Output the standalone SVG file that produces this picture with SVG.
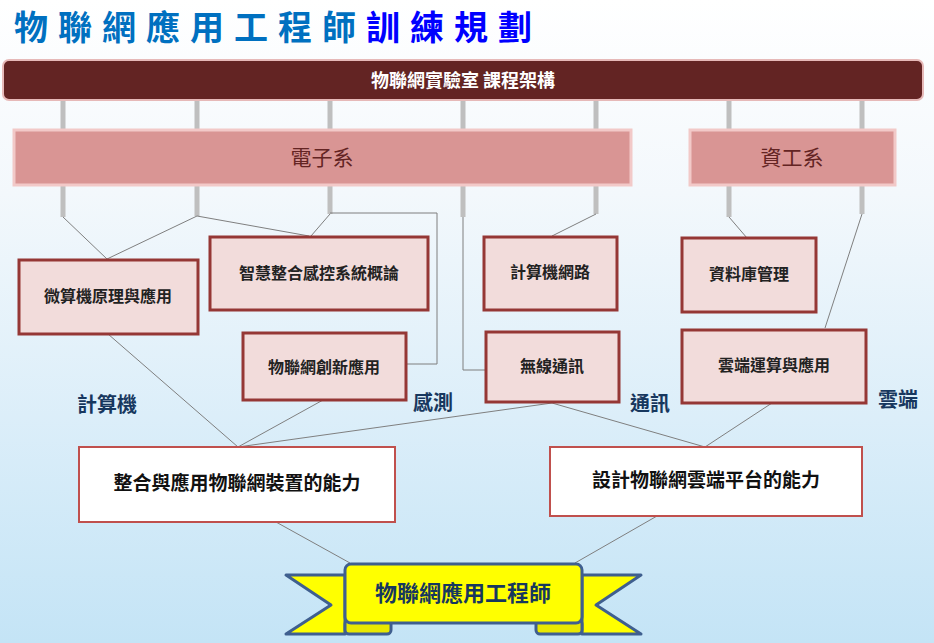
<svg xmlns="http://www.w3.org/2000/svg" width="934" height="643" viewBox="0 0 934 643">
<defs>
<linearGradient id="bg" x1="0" y1="0" x2="0" y2="1">
<stop offset="0" stop-color="#ffffff"/><stop offset="0.3" stop-color="#f3f8fc"/><stop offset="1" stop-color="#c4e4f6"/>
</linearGradient>
<style>
.cjk{font-family:"Noto Sans CJK TC","Noto Sans CJK SC",sans-serif;font-weight:bold}
.course rect{fill:#f2dcdb;stroke:#953735;stroke-width:3}
.course text{font-size:16px;fill:#222;text-anchor:middle}
.ability rect{fill:#fff;stroke:#c0504d;stroke-width:2}
.ability text{font-size:19px;fill:#111;text-anchor:middle}
.stub{stroke:#bfbfbf;stroke-width:5}
.ln{stroke:#7f7f7f;stroke-width:1;fill:none}
.area{font-size:20px;fill:#17375e;text-anchor:middle}
.dept rect{fill:#d99594;stroke:#f2c9c8;stroke-width:3}
.dept text{font-size:21px;fill:#632423;text-anchor:middle;font-weight:normal}
</style>
</defs>
<rect width="934" height="643" fill="url(#bg)"/>
<text x="14" y="40" class="cjk" font-size="34" letter-spacing="10" fill="#0070c0">物聯網應用工程師<tspan fill="#0000ff">訓練規劃</tspan></text>
<g id="connectors">
<g class="stub">
<line x1="63" y1="100" x2="63" y2="130"/><line x1="197" y1="100" x2="197" y2="130"/><line x1="330" y1="100" x2="330" y2="130"/><line x1="463" y1="100" x2="463" y2="130"/><line x1="596" y1="100" x2="596" y2="130"/><line x1="729" y1="100" x2="729" y2="130"/><line x1="862" y1="100" x2="862" y2="130"/>
<line x1="63" y1="186" x2="63" y2="217"/><line x1="197" y1="186" x2="197" y2="216"/><line x1="330" y1="186" x2="330" y2="214"/><line x1="463" y1="186" x2="463" y2="217"/><line x1="596" y1="186" x2="596" y2="214"/><line x1="729" y1="186" x2="729" y2="217"/><line x1="862" y1="186" x2="862" y2="214"/>
</g>
<g class="ln">
<line x1="63" y1="217" x2="107" y2="259"/><line x1="197" y1="216" x2="107" y2="259"/><line x1="197" y1="216" x2="309" y2="236"/><line x1="330" y1="214" x2="311" y2="236"/>
<polyline points="330,213 437,213 437,364 407,364"/>
<polyline points="463,217 463,370 486,370"/>
<line x1="596" y1="214" x2="552" y2="236"/><line x1="729" y1="217" x2="747" y2="238"/><line x1="862" y1="214" x2="825" y2="328"/>
<line x1="108" y1="334" x2="238" y2="447"/><line x1="323" y1="400" x2="238" y2="447"/><line x1="552" y1="403" x2="238" y2="447"/><line x1="552" y1="403" x2="705" y2="447"/><line x1="772" y1="403" x2="705" y2="447"/>
<line x1="276" y1="522" x2="350" y2="563"/><line x1="657" y1="516" x2="575" y2="563"/>
</g>
</g>
<g id="header"><rect x="3" y="60" width="920" height="40" rx="6" fill="#632423" stroke="#e6b9b8" stroke-width="2"/><text x="463" y="87" class="cjk" font-size="18" fill="#fff" text-anchor="middle">物聯網實驗室  課程架構</text></g>
<g id="dept-ee" class="dept"><rect x="14" y="130" width="617" height="55"/><text x="322" y="165" class="cjk">電子系</text></g>
<g id="dept-cs" class="dept"><rect x="690" y="130" width="205" height="55"/><text x="792" y="165" class="cjk">資工系</text></g>
<g id="c1" class="course"><rect x="19" y="260" width="179" height="74"/><text x="108" y="302" class="cjk">微算機原理與應用</text></g>
<g id="c2" class="course"><rect x="210" y="237" width="218" height="73"/><text x="319" y="279" class="cjk">智慧整合感控系統概論</text></g>
<g id="c3" class="course"><rect x="243" y="333" width="163" height="67"/><text x="324" y="373" class="cjk">物聯網創新應用</text></g>
<g id="c4" class="course"><rect x="484" y="237" width="133" height="73"/><text x="550" y="278" class="cjk">計算機網路</text></g>
<g id="c5" class="course"><rect x="682" y="238" width="134" height="74"/><text x="749" y="280" class="cjk">資料庫管理</text></g>
<g id="c6" class="course"><rect x="486" y="332" width="133" height="70"/><text x="552" y="372" class="cjk">無線通訊</text></g>
<g id="c7" class="course"><rect x="682" y="330" width="184" height="73"/><text x="774" y="371" class="cjk">雲端運算與應用</text></g>
<g id="areas"><text x="107" y="412" class="cjk area">計算機</text><text x="433" y="410" class="cjk area">感測</text><text x="650" y="411" class="cjk area">通訊</text><text x="898" y="407" class="cjk area">雲端</text></g>
<g id="a1" class="ability"><rect x="79" y="447" width="316" height="75"/><text x="237" y="490" class="cjk">整合與應用物聯網裝置的能力</text></g>
<g id="a2" class="ability"><rect x="550" y="447" width="312" height="69"/><text x="706" y="487" class="cjk">設計物聯網雲端平台的能力</text></g>
<g id="banner" stroke="#3f5f8f" stroke-width="3" stroke-linejoin="round">
<polygon points="286,575 345,575 345,634 286,634 331,605" fill="#ffff00"/>
<polygon points="641,575 582,575 582,634 641,634 596,605" fill="#ffff00"/>
<rect x="345" y="620" width="46" height="14" rx="4" fill="#e8e800"/>
<rect x="536" y="620" width="46" height="14" rx="4" fill="#e8e800"/>
<rect x="345" y="564" width="237" height="59" rx="6" fill="#ffff00"/>
<text x="463" y="601" class="cjk" font-size="22" fill="#17375e" stroke="none" text-anchor="middle">物聯網應用工程師</text>
</g>
</svg>
